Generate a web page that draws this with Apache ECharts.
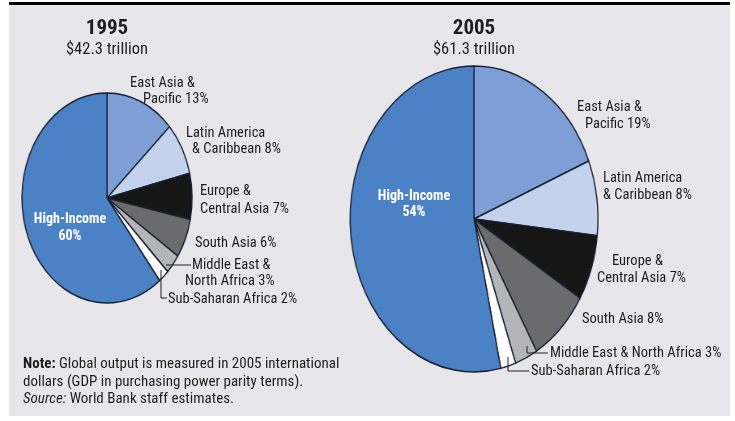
<!DOCTYPE html>
<html>
<head>
<meta charset="utf-8">
<script src="https://cdn.jsdelivr.net/npm/echarts@6/dist/echarts.min.js"></script>
<style>
  html, body { margin: 0; padding: 0; background: #ffffff; }
  #panel { position: absolute; left: 9px; top: 5px; width: 721px; height: 411px; background: #e7e7eb; }
  #rule { position: absolute; left: 9px; top: 2px; width: 721px; height: 3px; background: #000000; }
  /* pies are drawn round, then squeezed horizontally into ellipses */
  #pies { position: absolute; left: 0; top: 0; width: 907px; height: 421px; transform: scaleX(0.81); transform-origin: 0 0; }
  #text { position: absolute; left: 0; top: 0; width: 735px; height: 421px; }
</style>
</head>
<body>
<div id="panel"></div>
<div id="rule"></div>
<div id="pies"></div>
<div id="text"></div>
<script>
// Regional shares of world output (percent), clockwise from 12 o'clock
const regions = ['East Asia & Pacific', 'Latin America & Caribbean', 'Europe & Central Asia',
  'South Asia', 'Middle East & North Africa', 'Sub-Saharan Africa', 'High-Income'];
const share1995 = [13, 8, 7, 6, 3, 2, 60];
const share2005 = [19, 8, 7, 8, 3, 2, 54];
const years = ['1995', '2005'];
const totals = ['$42.3 trillion', '$61.3 trillion'];

const sliceColors = ['#7d9fd6', '#c4d2ee', '#161616', '#6b6b6d', '#b5b5b9', '#ffffff', '#4a82c5'];
const SQUEEZE = 0.81;
const FONT = '"Liberation Sans Narrow", "Roboto Condensed", "Liberation Sans", sans-serif';
const LABEL_SIZE = 14.5;

function pieData(values) {
  return regions.map((name, i) => ({ name, value: values[i], itemStyle: { color: sliceColors[i] } }));
}

// ---- pies ----
const pieChart = echarts.init(document.getElementById('pies'), null, { renderer: 'canvas' });
const pieBase = {
  type: 'pie', startAngle: 90, clockwise: true, silent: true, animation: false,
  avoidLabelOverlap: false, label: { show: false }, labelLine: { show: false },
  itemStyle: { borderColor: '#1b2130', borderWidth: 1.5 }
};
pieChart.setOption({
  backgroundColor: 'transparent',
  series: [
    Object.assign({}, pieBase, { center: [107 / SQUEEZE, 198], radius: 105, data: pieData(share1995) }),
    Object.assign({}, pieBase, { center: [474 / SQUEEZE, 219], radius: 153, data: pieData(share2005) })
  ]
});

// ---- titles, labels, leaders, note ----
function txt(x, y, text, opts) {
  return {
    type: 'text', silent: true,
    style: Object.assign({
      x, y, text, fill: '#1e1e1e', fontFamily: FONT, fontSize: LABEL_SIZE,
      align: 'left', verticalAlign: 'middle'
    }, opts || {})
  };
}
function line(points) {
  return { type: 'polyline', silent: true, shape: { points }, style: { stroke: '#1e1e1e', lineWidth: 1, fill: null } };
}

const pct = (v) => v + '%';
const g = [];

// titles
[107, 474].forEach((cx, k) => {
  g.push(txt(cx, 29, years[k], { fontSize: 21, fontWeight: 'bold', align: 'center' }));
  g.push(txt(cx, 50, totals[k], { fontSize: 16.5, align: 'center' }));
});

const inside = { fill: '#ffffff', fontWeight: 'bold', align: 'center', fontSize: 14 };

// 1995 labels
g.push(txt(130, 83, 'East Asia &'));
g.push(txt(143, 99, 'Pacific ' + pct(share1995[0])));
g.push(txt(186, 133, 'Latin America'));
g.push(txt(192, 149, '& Caribbean ' + pct(share1995[1])));
g.push(txt(200, 191, 'Europe &'));
g.push(txt(200, 209, 'Central Asia ' + pct(share1995[2])));
g.push(txt(195, 243, 'South Asia ' + pct(share1995[3])));
g.push(txt(192, 265, 'Middle East &'));
g.push(txt(185, 281, 'North Africa ' + pct(share1995[4])));
g.push(txt(168, 299, 'Sub-Saharan Africa ' + pct(share1995[5])));
g.push(txt(70, 219, 'High-Income', inside));
g.push(txt(70, 236, pct(share1995[6]), inside));
g.push(line([[166, 265], [191, 265]]));
g.push(line([[161, 270], [161, 298], [167, 298]]));

// 2005 labels
g.push(txt(577, 107, 'East Asia &'));
g.push(txt(585, 124, 'Pacific ' + pct(share2005[0])));
g.push(txt(603, 178, 'Latin America'));
g.push(txt(603, 195, '& Caribbean ' + pct(share2005[1])));
g.push(txt(612, 261, 'Europe &'));
g.push(txt(597, 278, 'Central Asia ' + pct(share2005[2])));
g.push(txt(582, 319, 'South Asia ' + pct(share2005[3])));
g.push(txt(550, 353, 'Middle East & North Africa ' + pct(share2005[4])));
g.push(txt(531, 371, 'Sub-Saharan Africa ' + pct(share2005[5])));
g.push(txt(414, 196, 'High-Income', inside));
g.push(txt(414, 212, pct(share2005[6]), inside));
g.push(line([[527, 346], [527, 353], [548, 353]]));
g.push(line([[508, 357], [508, 371], [529, 371]]));

// note
const NOTE_SIZE = 15;
const noteRich = { b: { fontWeight: 'bold', fontFamily: FONT, fontSize: NOTE_SIZE, fill: '#1e1e1e' },
                   i: { fontStyle: 'italic', fontFamily: FONT, fontSize: NOTE_SIZE, fill: '#1e1e1e' } };
g.push(txt(23, 364, '{b|Note:} Global output is measured in 2005 international', { fontSize: NOTE_SIZE, rich: noteRich }));
g.push(txt(23, 382, 'dollars (GDP in purchasing power parity terms).', { fontSize: NOTE_SIZE }));
g.push(txt(23, 399, '{i|Source:} World Bank staff estimates.', { fontSize: NOTE_SIZE, rich: noteRich }));

const textChart = echarts.init(document.getElementById('text'));
textChart.setOption({ backgroundColor: 'transparent', animation: false, graphic: g });
</script>
</body>
</html>
